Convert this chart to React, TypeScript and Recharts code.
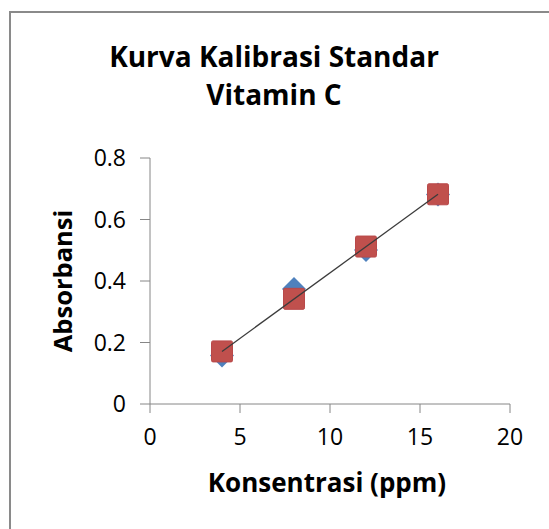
import React from "react";
import {
  ScatterChart,
  Scatter,
  XAxis,
  YAxis,
  Label,
} from "recharts";

const concentrations = [4, 8, 12, 16];
const absorbance = [0.158, 0.374, 0.501, 0.681];
const predicted = [0.171, 0.342, 0.512, 0.682];
const xTicks = [0, 5, 10, 15, 20];
const yTicks = [0, 0.2, 0.4, 0.6, 0.8];

const measuredData = concentrations.map((x, i) => ({ x, y: absorbance[i] }));
const predictedData = concentrations.map((x, i) => ({ x, y: predicted[i] }));
// trendline only runs between the first and last point
const trendData = [predictedData[0], predictedData[predictedData.length - 1]];

const FONT = "'Open Sans', Lato, sans-serif";
const AXIS_COLOR = "#868686";

const Diamond = (props: any) => {
  const { cx, cy } = props;
  const r = 12;
  return (
    <path
      d={`M${cx},${cy - r} L${cx + r},${cy} L${cx},${cy + r} L${cx - r},${cy} Z`}
      fill="#4F81BD"
    />
  );
};

const Square = (props: any) => {
  const { cx, cy } = props;
  const h = 10.5;
  return (
    <rect
      x={cx - h}
      y={cy - h}
      width={h * 2}
      height={h * 2}
      rx={1.5}
      fill="#C0504D"
      stroke="#B9494A"
      strokeWidth={1}
    />
  );
};

const NoDot = () => <g />;

export default function App() {
  return (
    <div
      style={{
        position: "absolute",
        left: 0,
        top: 0,
        width: 549,
        height: 529,
        overflow: "hidden",
        background: "#fff",
      }}
    >
      <div
        style={{
          position: "absolute",
          left: 9,
          top: 11,
          width: 700,
          height: 700,
          borderLeft: "2px solid #8a8a8a",
          borderTop: "2px solid #8a8a8a",
        }}
      />
      <svg
        width={549}
        height={140}
        style={{ position: "absolute", left: 0, top: 0, pointerEvents: "none" }}
      >
        <text
          x={274}
          y={67}
          textAnchor="middle"
          fontFamily={FONT}
          fontWeight="bold"
          fontSize={28}
          fill="#000"
        >
          Kurva Kalibrasi Standar
        </text>
        <text
          x={274}
          y={105}
          textAnchor="middle"
          fontFamily={FONT}
          fontWeight="bold"
          fontSize={28}
          fill="#000"
        >
          Vitamin C
        </text>
      </svg>
      <div style={{ position: "absolute", left: 0, top: 0 }}>
        <ScatterChart
          width={549}
          height={529}
          margin={{ top: 158, right: 39, bottom: 0, left: 0 }}
        >
          <XAxis
            type="number"
            dataKey="x"
            domain={[0, 20]}
            ticks={xTicks}
            interval={0}
            stroke={AXIS_COLOR}
            tickSize={9}
            tickMargin={16}
            height={125}
            tick={{ fill: "#000", fontSize: 23, fontFamily: FONT }}
          >
            <Label
              content={() => (
                <text
                  x={327}
                  y={492}
                  textAnchor="middle"
                  fontFamily={FONT}
                  fontWeight="bold"
                  fontSize={26}
                  fill="#000"
                >
                  Konsentrasi (ppm)
                </text>
              )}
            />
          </XAxis>
          <YAxis
            type="number"
            dataKey="y"
            domain={[0, 0.8]}
            ticks={yTicks}
            interval={0}
            stroke={AXIS_COLOR}
            tickSize={10}
            tickMargin={14}
            width={150}
            tick={{ fill: "#000", fontSize: 23, fontFamily: FONT }}
          >
            <Label
              content={() => (
                <text
                  x={72}
                  y={281}
                  transform="rotate(-90 72 281)"
                  textAnchor="middle"
                  fontFamily={FONT}
                  fontWeight="bold"
                  fontSize={25.5}
                  fill="#000"
                >
                  Absorbansi
                </text>
              )}
            />
          </YAxis>
          <Scatter
            data={measuredData}
            shape={<Diamond />}
            isAnimationActive={false}
          />
          <Scatter
            data={predictedData}
            shape={<Square />}
            isAnimationActive={false}
          />
          <Scatter
            data={trendData}
            line={{ stroke: "#3c3c3c", strokeWidth: 1.3 }}
            shape={<NoDot />}
            isAnimationActive={false}
          />
        </ScatterChart>
      </div>
    </div>
  );
}
